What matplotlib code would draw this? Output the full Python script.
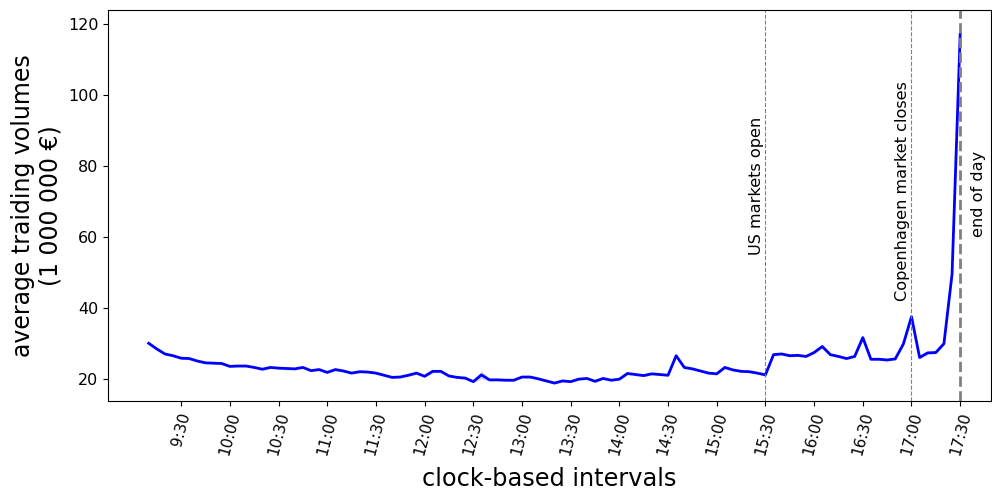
import matplotlib
matplotlib.use("Agg")
import matplotlib.pyplot as plt
import numpy as np

# average volume per 5-minute interval, 9:10 .. 17:30
start_min = 9 * 60 + 10
step_min = 5
volumes = [
    30.0, 28.4, 27.0, 26.5, 25.8, 25.7, 25.0, 24.5, 24.4, 24.3,
    23.5, 23.6, 23.6, 23.2, 22.7, 23.2, 23.0, 22.9, 22.8, 23.2,
    22.3, 22.6, 21.8, 22.6, 22.2, 21.6, 22.0, 21.9, 21.6, 21.0,
    20.4, 20.5, 21.0, 21.6, 20.7, 22.1, 22.1, 20.8, 20.4, 20.2,
    19.2, 21.1, 19.7, 19.7, 19.6, 19.6, 20.5, 20.5, 20.0, 19.4,
    18.8, 19.4, 19.2, 19.9, 20.1, 19.3, 20.1, 19.6, 19.9, 21.5,
    21.2, 20.9, 21.4, 21.2, 21.0, 26.5, 23.2, 22.8, 22.2, 21.6,
    21.4, 23.2, 22.5, 22.1, 22.0, 21.6, 21.1, 26.8, 27.0, 26.5,
    26.6, 26.3, 27.4, 29.1, 26.8, 26.3, 25.7, 26.3, 31.6, 25.5,
    25.5, 25.3, 25.6, 29.8, 37.5, 26.0, 27.3, 27.4, 29.9, 49.5,
    117.0,
]
# half-width of the confidence band around the mean
ci_half = [
    0.3, 0.3, 0.3, 0.3, 0.3, 0.3, 0.3, 0.3, 0.3, 0.3,
    0.3, 0.3, 0.3, 0.3, 0.3, 0.3, 0.3, 0.4, 0.3, 0.3,
    0.3, 0.3, 0.3, 0.4, 0.3, 0.3, 0.3, 0.3, 0.3, 0.3,
    0.3, 0.3, 0.3, 0.4, 0.3, 0.4, 0.4, 0.3, 0.3, 0.3,
    0.3, 1.2, 0.4, 0.3, 0.3, 0.3, 0.3, 0.3, 0.3, 0.3,
    0.3, 0.3, 0.3, 0.3, 0.3, 0.3, 0.3, 0.3, 0.3, 0.4,
    0.3, 0.3, 0.3, 0.3, 0.3, 0.5, 0.4, 0.3, 0.3, 0.3,
    0.3, 0.4, 0.3, 0.3, 0.3, 0.3, 0.3, 0.4, 0.4, 0.3,
    0.3, 0.3, 0.4, 0.5, 0.4, 0.3, 0.3, 0.3, 0.8, 0.3,
    0.3, 0.3, 0.3, 0.5, 0.7, 0.4, 0.4, 0.4, 0.5, 1.0,
    2.0,
]
tick_labels = ["9:30", "10:00", "10:30", "11:00", "11:30", "12:00", "12:30",
               "13:00", "13:30", "14:00", "14:30", "15:00", "15:30", "16:00",
               "16:30", "17:00", "17:30"]
events = [("US markets open", "15:30", 55, "right", 0.8, 0.8),
          ("Copenhagen market closes", "17:00", 42, "right", 0.8, 0.8),
          ("end of day", "17:30", 60, "left", 2.0, 6.5)]


def to_min(label):
    h, m = label.split(":")
    return int(h) * 60 + int(m)


x = start_min + step_min * np.arange(len(volumes))
v = np.array(volumes)
ci = np.array(ci_half)

fig, ax = plt.subplots(figsize=(9.92, 4.93), dpi=100)
ax.fill_between(x, v - ci, v + ci, color="blue", alpha=0.15, linewidth=0)
ax.plot(x, v, color="blue", linewidth=2)

for text, t, y, ha, lw, off in events:
    xm = to_min(t)
    ax.axvline(xm, color="gray", linestyle="--", linewidth=lw)
    tx = xm - off if ha == "right" else xm + off
    ax.text(tx, y, text, rotation=90, ha=ha, va="bottom", fontsize=11.6)

ax.set_xticks([to_min(t) for t in tick_labels])
ax.set_xticklabels(tick_labels, rotation=75, fontsize=11)
ax.tick_params(axis="y", labelsize=11.5)
ax.set_xlim(start_min - 25, 1050 + 19)
ax.set_ylim(13.8, 123.9)
ax.set_xlabel("clock-based intervals", fontsize=17.3, labelpad=7)
ax.set_ylabel("average traiding volumes\n(1 000 000 €)", fontsize=17)

fig.subplots_adjust(left=0.109, right=0.999, top=0.98, bottom=0.187)
fig.savefig("out.png", dpi=100)
